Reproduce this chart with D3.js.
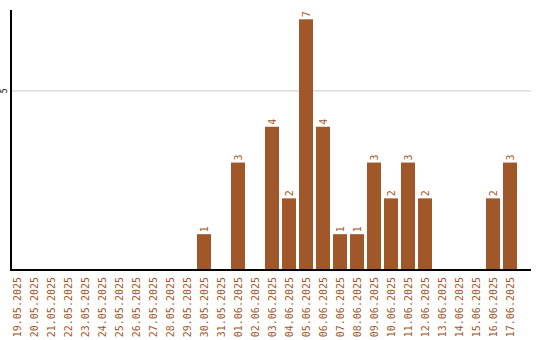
<!DOCTYPE html>
<html>
<head>
<meta charset="utf-8">
<script src="https://cdn.jsdelivr.net/npm/d3@7"></script>
<style>
  body { margin: 0; background: #fff; }
  text { font-family: "DejaVu Sans Mono", monospace; }
</style>
</head>
<body>
<svg id="chart" width="540" height="340"></svg>
<script>
// dates shown on the x axis
const days = [
  "19.05.2025", "20.05.2025", "21.05.2025", "22.05.2025", "23.05.2025",
  "24.05.2025", "25.05.2025", "26.05.2025", "27.05.2025", "28.05.2025",
  "29.05.2025", "30.05.2025", "31.05.2025", "01.06.2025", "02.06.2025",
  "03.06.2025", "04.06.2025", "05.06.2025", "06.06.2025", "07.06.2025",
  "08.06.2025", "09.06.2025", "10.06.2025", "11.06.2025", "12.06.2025",
  "13.06.2025", "14.06.2025", "15.06.2025", "16.06.2025", "17.06.2025",
];
const counts = [
  0, 0, 0, 0, 0,
  0, 0, 0, 0, 0,
  0, 1, 0, 3, 0,
  4, 2, 7, 4, 1,
  1, 3, 2, 3, 2,
  0, 0, 0, 2, 3,
];
const yTicks = [5];

const color = "#a0572a";
const svg = d3.select("#chart");

const x = d3.scaleBand().domain(days).range([8.5, 518.5]).paddingInner(3 / 17).paddingOuter(1.5 / 17);
const y = d3.scaleLinear().domain([0, 7.26]).range([270, 10]);

// grid lines
svg.append("g")
  .selectAll("line")
  .data(yTicks)
  .enter()
  .append("line")
  .attr("x1", 11)
  .attr("x2", 531)
  .attr("y1", (d) => y(d))
  .attr("y2", (d) => y(d))
  .attr("stroke", "#c8c8c8")
  .attr("stroke-width", 1);

// tick labels, rotated like the original
svg.append("g")
  .selectAll("text")
  .data(yTicks)
  .enter()
  .append("text")
  .attr("transform", (d) => `translate(4.5,${y(d)}) rotate(-90)`)
  .attr("text-anchor", "middle")
  .attr("dominant-baseline", "central")
  .attr("font-size", 8)
  .attr("fill", "#000")
  .text((d) => d);

const data = days.map((d, i) => ({ day: d, n: counts[i] }));

svg.append("g")
  .selectAll("rect")
  .data(data.filter((d) => d.n > 0))
  .enter()
  .append("rect")
  .attr("x", (d) => x(d.day))
  .attr("width", x.bandwidth())
  .attr("y", (d) => y(d.n))
  .attr("height", (d) => y(0) - y(d.n))
  .attr("fill", color);

// value labels above bars
svg.append("g")
  .selectAll("text")
  .data(data.filter((d) => d.n > 0))
  .enter()
  .append("text")
  .attr("transform", (d) => `translate(${x(d.day) + x.bandwidth() / 2},${y(d.n) - 2}) rotate(-90)`)
  .attr("text-anchor", "start")
  .attr("dominant-baseline", "central")
  .attr("font-size", 10)
  .attr("fill", color)
  .text((d) => d.n);

// axes lines
svg.append("line")
  .attr("x1", 11).attr("x2", 11)
  .attr("y1", 10).attr("y2", 271)
  .attr("stroke", "#000").attr("stroke-width", 2);
svg.append("line")
  .attr("x1", 10).attr("x2", 531)
  .attr("y1", 270).attr("y2", 270)
  .attr("stroke", "#000").attr("stroke-width", 2);

// x labels
svg.append("g")
  .selectAll("text")
  .data(days)
  .enter()
  .append("text")
  .attr("transform", (d) => `translate(${x(d) + x.bandwidth() / 2},277) rotate(-90)`)
  .attr("text-anchor", "end")
  .attr("dominant-baseline", "central")
  .attr("font-size", 10)
  .attr("fill", color)
  .text((d) => d);
</script>
</body>
</html>
